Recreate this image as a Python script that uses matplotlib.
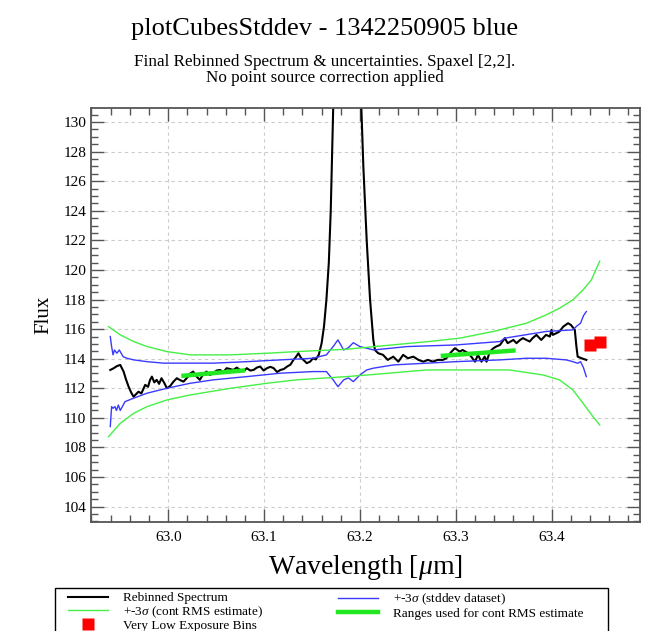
import matplotlib
matplotlib.use("Agg")
import matplotlib.pyplot as plt
import numpy as np
from matplotlib.ticker import MultipleLocator
from matplotlib.legend_handler import HandlerLine2D
from matplotlib.patches import Rectangle

plt.rcParams['font.family'] = ['Liberation Serif', 'DejaVu Serif']
plt.rcParams['mathtext.fontset'] = 'custom'
plt.rcParams['mathtext.rm'] = 'Liberation Serif'
plt.rcParams['mathtext.it'] = 'Liberation Serif:italic'

# rebinned spectrum
spec_w = [62.9396, 62.9430, 62.9465, 62.9500, 62.9535, 62.9560, 62.9587, 62.9615, 62.9639, 62.9665,
          62.9690, 62.9720, 62.9760, 62.9790, 62.9810, 62.9830, 62.9855, 62.9880, 62.9905, 62.9930,
          62.9960, 62.9986, 63.0020, 63.0055, 63.0090, 63.0125, 63.0160, 63.0195, 63.0230, 63.0260,
          63.0295, 63.0330, 63.0365, 63.0400, 63.0435, 63.0470, 63.0505, 63.0540, 63.0575, 63.0610,
          63.0645, 63.0680, 63.0715, 63.0750, 63.0785, 63.0820, 63.0855, 63.0890, 63.0925, 63.0960,
          63.0995, 63.1030, 63.1065, 63.1100, 63.1135, 63.1170, 63.1205, 63.1240, 63.1275, 63.1306,
          63.1330, 63.1358, 63.1385, 63.1410, 63.1445, 63.1480, 63.1510, 63.1540, 63.1570, 63.1600,
          63.1625, 63.1650, 63.1675, 63.1695, 63.1712, 63.1760, 63.1810, 63.1860, 63.1910, 63.1960,
          63.2015, 63.2035, 63.2070, 63.2105, 63.2139, 63.2156, 63.2190, 63.2240, 63.2290, 63.2347,
          63.2400, 63.2450, 63.2500, 63.2556, 63.2610, 63.2660, 63.2710, 63.2760, 63.2810, 63.2865,
          63.2900, 63.2955, 63.2990, 63.3040, 63.3070, 63.3128, 63.3160, 63.3200, 63.3230, 63.3267,
          63.3300, 63.3320, 63.3354, 63.3390, 63.3420, 63.3460, 63.3510, 63.3540, 63.3600, 63.3632,
          63.3670, 63.3700, 63.3735, 63.3770, 63.3800, 63.3840, 63.3890, 63.3940, 63.3980, 63.3997,
          63.4010, 63.4050, 63.4080, 63.4120, 63.4170, 63.4200, 63.4240, 63.4257, 63.4270, 63.4310,
          63.4360]
spec_f = [113.24, 113.35, 113.50, 113.58, 113.13, 112.60, 112.11, 111.70, 111.43, 111.60,
          111.77, 111.65, 112.23, 112.10, 112.55, 112.79, 112.40, 112.57, 112.30, 112.68,
          112.35, 112.00, 112.15, 112.45, 112.68, 112.55, 112.45, 112.70, 113.00, 113.13,
          112.80, 112.57, 112.95, 113.13, 112.90, 113.02, 113.20, 113.24, 113.10, 113.36,
          113.30, 113.24, 113.40, 113.24, 113.15, 113.36, 113.20, 113.24, 113.40, 113.47,
          113.20, 113.36, 113.45, 113.36, 113.10, 113.24, 113.30, 113.47, 113.60, 113.92,
          114.10, 114.37, 114.05, 113.92, 113.70, 113.80, 114.03, 113.95, 114.26, 115.05,
          116.20, 118.00, 120.50, 124.00, 128.50, 141.60, 154.70, 161.00, 157.00, 145.00,
          130.80, 127.00, 122.00, 118.00, 115.27, 114.59, 114.37, 114.26, 113.92, 114.14,
          113.80, 114.26, 114.03, 114.14, 113.92, 113.80, 113.92, 113.80, 113.92, 113.92,
          114.03, 114.48, 114.71, 114.48, 114.59, 114.37, 114.14, 113.80, 114.26, 113.80,
          114.14, 113.80, 114.48, 114.70, 114.82, 114.93, 115.39, 115.05, 115.27, 115.05,
          115.27, 115.39, 115.27, 115.16, 115.39, 115.61, 115.27, 115.61, 115.50, 115.95,
          115.61, 115.73, 115.84, 116.17, 116.40, 116.28, 115.95, 114.82, 114.14, 114.03,
          113.92]

# +-3 sigma from the stddev dataset
sd_w_up = [62.9396, 62.9410, 62.9425, 62.9440, 62.9465, 62.9490, 62.9530, 62.9570, 62.9640, 62.9780,
           62.9950, 63.0120, 63.0470, 63.0820, 63.1170, 63.1510, 63.1650, 63.1720, 63.1770, 63.1830,
           63.1880, 63.1930, 63.2000, 63.2070, 63.2140, 63.2490, 63.3000, 63.3460, 63.3510, 63.3940,
           63.4220, 63.4260, 63.4300, 63.4330, 63.4360]
sd_f_up = [115.50, 114.82, 114.26, 114.59, 114.37, 114.59, 114.14, 114.03, 113.92, 113.80,
           113.70, 113.70, 113.70, 113.80, 113.92, 114.03, 114.26, 114.82, 115.27, 114.59,
           114.75, 115.08, 114.82, 114.71, 114.59, 114.82, 114.93, 115.16, 115.39, 115.84,
           115.95, 116.20, 116.40, 116.90, 117.19]
sd_w_lo = [62.9396, 62.9410, 62.9425, 62.9445, 62.9460, 62.9480, 62.9500, 62.9550, 62.9640, 62.9780,
           62.9986, 63.0230, 63.0470, 63.0820, 63.1170, 63.1510, 63.1650, 63.1720, 63.1770, 63.1830,
           63.1880, 63.1930, 63.2000, 63.2070, 63.2140, 63.2350, 63.3000, 63.3460, 63.3736, 63.3940,
           63.4150, 63.4220, 63.4270, 63.4300, 63.4330, 63.4360]
sd_f_lo = [109.41, 110.76, 110.65, 110.76, 110.50, 110.87, 110.50, 111.10, 111.33, 111.67,
           112.00, 112.34, 112.57, 112.79, 113.02, 113.13, 113.13, 112.57, 112.11, 112.57,
           112.70, 112.45, 112.90, 113.24, 113.36, 113.58, 113.80, 113.92, 114.03, 114.03,
           113.92, 113.80, 113.69, 113.80, 113.40, 112.79]

# +-3 sigma from the continuum RMS estimate
rms_w_up = [62.9378, 62.9500, 62.9640, 62.9780, 62.9986, 63.0230, 63.0650, 63.1030, 63.1340, 63.1860,
            63.2200, 63.2700, 63.3040, 63.3390, 63.3736, 63.3940, 63.4080, 63.4220, 63.4326, 63.4413,
            63.4500]
rms_f_up = [116.17, 115.61, 115.16, 114.82, 114.48, 114.26, 114.26, 114.37, 114.48, 114.64,
            114.85, 115.15, 115.39, 115.84, 116.40, 116.96, 117.41, 117.98, 118.65, 119.33,
            120.60]
rms_w_lo = [62.9378, 62.9500, 62.9640, 62.9780, 62.9986, 63.0230, 63.0650, 63.1030, 63.1340, 63.1860,
            63.2210, 63.2695, 63.3560, 63.3910, 63.4080, 63.4220, 63.4326, 63.4430, 63.4500]
rms_f_lo = [108.73, 109.63, 110.31, 110.76, 111.21, 111.55, 112.00, 112.34, 112.57, 112.79,
            112.97, 113.24, 113.24, 112.90, 112.57, 111.89, 110.99, 110.08, 109.52]

# ranges used for the continuum RMS estimate
range_w = [63.016, 63.078, np.nan, 63.2865, 63.360]
range_f = [112.85, 113.20, np.nan, 114.20, 114.55]

# very low exposure bins
low_w = [63.4395, 63.4500]
low_f = [114.95, 115.10]

blue = '#3a3aff'
green = '#44f044'


class MarkerAtEnd(HandlerLine2D):
    # legend marker sits at the right end of the handle, as in the original
    def get_xdata(self, legend, xdescent, ydescent, width, height, fontsize):
        return [-xdescent, width - xdescent], [width - xdescent]


fig = plt.figure(figsize=(6.49, 6.31), dpi=100)
ax = fig.add_axes([91/649, 1 - 521.7/631, 549/649, 413.4/631])

l_spec, = ax.plot(spec_w, spec_f, color='black', lw=1.5, label='Rebinned Spectrum')
l_sd, = ax.plot(sd_w_up, sd_f_up, color=blue, lw=1.0, label=r'+-3$\sigma$ (stddev dataset)')
ax.plot(sd_w_lo, sd_f_lo, color=blue, lw=1.0)
l_rms, = ax.plot(rms_w_up, rms_f_up, color=green, lw=1.0, label=r'+-3$\sigma$ (cont RMS estimate)')
ax.plot(rms_w_lo, rms_f_lo, color=green, lw=1.0)
l_rng, = ax.plot(range_w, range_f, color='#22e822', lw=3.2, label='Ranges used for cont RMS estimate')
l_low, = ax.plot(low_w, low_f, 's', color='red', ms=9, mec='none', label='Very Low Exposure Bins')

ax.set_xlim(62.9195, 63.492)
ax.set_ylim(102.98, 130.93)
ax.xaxis.set_major_locator(MultipleLocator(0.1))
ax.xaxis.set_minor_locator(MultipleLocator(0.02))
ax.yaxis.set_major_locator(MultipleLocator(2))
ax.yaxis.set_minor_locator(MultipleLocator(0.5))
ax.tick_params(which='both', direction='in', top=True, right=True, color='#555555', labelsize=11)
ax.tick_params(which='major', length=9.5, width=1.0)
ax.tick_params(which='minor', length=5, width=1.0)
ax.tick_params(axis='x', which='major', pad=7)
for s in ax.spines.values():
    s.set_color('#555555')
    s.set_linewidth(1.3)
ax.grid(True, which='major', color='#cccccc', linestyle=(0, (3, 3)), lw=0.8)
ax.set_axisbelow(True)

ax.set_xlabel(r'Wavelength [$\mu$m]', fontsize=20, labelpad=6)
ax.set_ylabel('Flux', fontsize=15, labelpad=7)

fig.text(0.5, 1 - 29/631, 'plotCubesStddev - 1342250905 blue', ha='center', va='center', fontsize=19)
fig.text(0.5, 1 - 62/631, 'Final Rebinned Spectrum & uncertainties. Spaxel [2,2].',
         ha='center', va='center', fontsize=12.3)
fig.text(0.5, 1 - 78/631, 'No point source correction applied', ha='center', va='center', fontsize=12.3)

# legend frame runs past the bottom of the figure
fig.add_artist(Rectangle((55/649, -10/631), 553/649, (631 - 588 + 10)/631, transform=fig.transFigure,
                         facecolor='white', edgecolor='black', lw=1.0))
leg_kw = dict(loc='upper left', fontsize=9.5, frameon=False, handlelength=3.0, handletextpad=1.15,
              labelspacing=0.0, borderpad=0, borderaxespad=0, numpoints=1)
leg1 = fig.legend([l_spec, l_rms, l_low], [l_spec.get_label(), l_rms.get_label(), l_low.get_label()],
                  bbox_to_anchor=(68/649, 1 - 592/631), handler_map={l_low: MarkerAtEnd()}, **leg_kw)
leg2 = fig.legend([l_sd, l_rng], [l_sd.get_label(), l_rng.get_label()],
                  bbox_to_anchor=(338/649, 1 - 592/631), **leg_kw)

fig.savefig('out.png', dpi=100)
